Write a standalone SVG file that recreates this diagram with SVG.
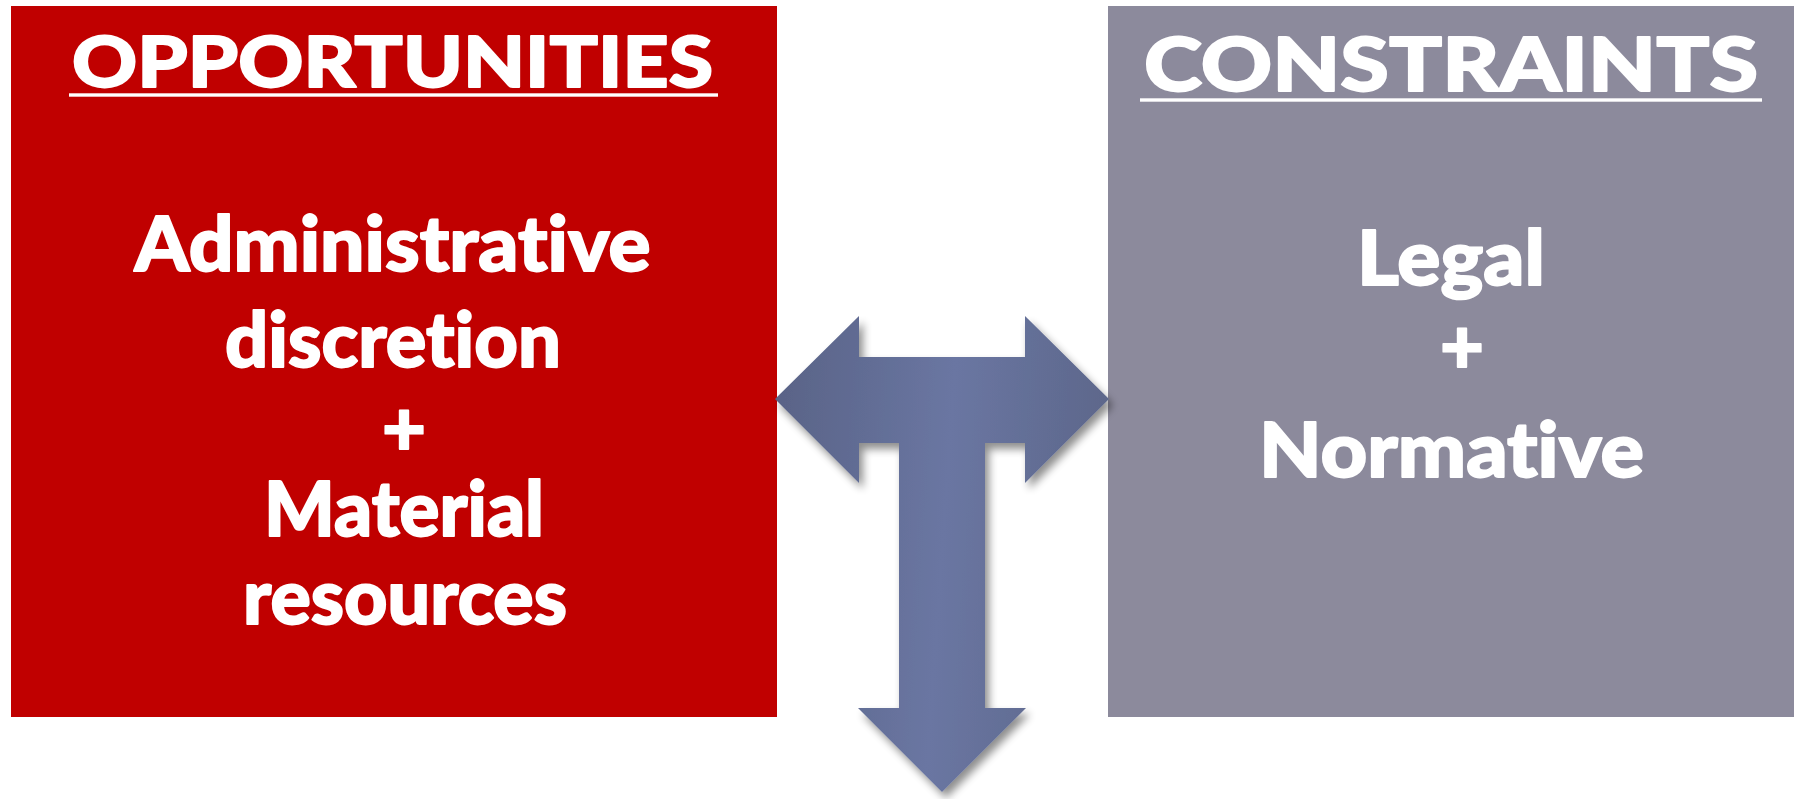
<svg xmlns="http://www.w3.org/2000/svg" width="1799" height="799" viewBox="0 0 1799 799">
  <defs>
    <style>
      .txt { font-family: "Lato", "Liberation Sans", sans-serif; font-weight: 900; fill: #ffffff; stroke: #ffffff; stroke-width: 1.8px; stroke-linejoin: round; text-anchor: middle; font-variant-ligatures: none; font-feature-settings: "liga" 0, "clig" 0; }
      .title { font-size: 71px; }
      .body { font-size: 76px; }
      .rule { fill: #ffffff; }
    </style>
    <linearGradient id="arrowFill" x1="0" y1="0.45" x2="1" y2="0.55">
      <stop offset="0" stop-color="#5a6488"/>
      <stop offset="0.5" stop-color="#6a76a2"/>
      <stop offset="1" stop-color="#5c6689"/>
    </linearGradient>
    <filter id="arrowShadow" x="-10%" y="-10%" width="125%" height="125%">
      <feGaussianBlur in="SourceAlpha" stdDeviation="4"/>
      <feOffset dx="4" dy="6" result="blur"/>
      <feComponentTransfer><feFuncA type="linear" slope="0.45"/></feComponentTransfer>
      <feMerge><feMergeNode/><feMergeNode in="SourceGraphic"/></feMerge>
    </filter>
  </defs>

  <rect width="1799" height="799" fill="#ffffff"/>

  <!-- Opportunities panel -->
  <g id="opportunities">
    <rect x="11" y="6" width="766" height="711" fill="#c00000"/>
    <text class="txt title" x="392.5" y="87" textLength="641" lengthAdjust="spacingAndGlyphs">OPPORTUNITIES</text>
    <rect class="rule" x="69" y="93.3" width="649" height="3.4"/>
    <text class="txt body" x="392.5" y="271" textLength="516" lengthAdjust="spacingAndGlyphs">Administrative</text>
    <text class="txt body" x="393" y="367" textLength="336" lengthAdjust="spacingAndGlyphs">discretion</text>
    <text class="txt body" x="404" y="455">+</text>
    <text class="txt body" x="404" y="536" textLength="280" lengthAdjust="spacingAndGlyphs">Material</text>
    <text class="txt body" x="405" y="624" textLength="324" lengthAdjust="spacingAndGlyphs">resources</text>
  </g>

  <!-- Constraints panel -->
  <g id="constraints">
    <rect x="1108" y="6" width="686" height="711" fill="#8c8a9c"/>
    <text class="txt title" x="1451" y="91" textLength="614" lengthAdjust="spacingAndGlyphs" style="font-size:74px">CONSTRAINTS</text>
    <rect class="rule" x="1140" y="98.3" width="622" height="3.4"/>
    <text class="txt body" x="1451" y="285" textLength="188" lengthAdjust="spacingAndGlyphs">Legal</text>
    <text class="txt body" x="1462" y="373">+</text>
    <text class="txt body" x="1451.5" y="476.5" textLength="385" lengthAdjust="spacingAndGlyphs">Normative</text>
  </g>

  <!-- Three-way arrow between the panels -->
  <g id="connectors">
    <polygon filter="url(#arrowShadow)" fill="url(#arrowFill)"
      points="775,399 859,316 859,357 1025,357 1025,316 1109,399 1025,483 1025,443 985,443 985,708 1026,708 942,792 858,708 899,708 899,443 859,443 859,483"/>
  </g>
</svg>
